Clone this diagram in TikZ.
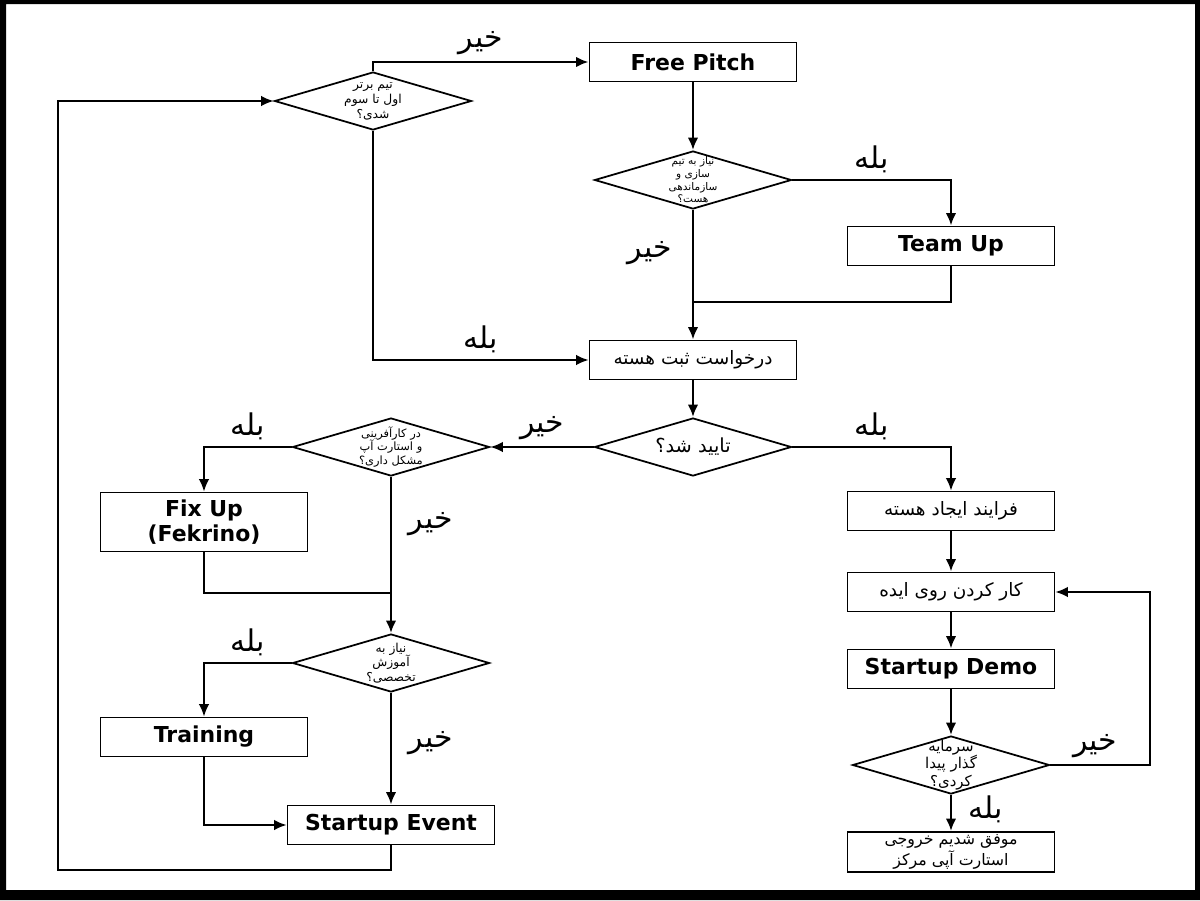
\documentclass[tikz,border=0pt]{standalone}
\usepackage{fontspec}
\setmainfont{DejaVu Sans}
\newfontfamily\arabicfont[Script=Arabic]{DejaVu Sans}
\TeXXeTstate=1
\newcommand{\fa}[1]{{\arabicfont\beginR #1\endR}}
\usetikzlibrary{positioning,shapes.geometric,arrows.meta}

\begin{document}
\begin{tikzpicture}[x=0.02cm,y=-0.02cm,
		box/.style={draw,line width=1pt,minimum width=4.14cm,minimum height=0.78cm,inner sep=1pt},
		title/.style={box,align=center,font=\bfseries\fontsize{12.5}{14.5}\selectfont},
		fbox/.style={box,align=center,font=\fontsize{10.5}{12}\selectfont},
		dia/.style={draw,diamond,line width=1pt,minimum width=3.94cm,minimum height=1.16cm,inner sep=0pt},
		ask/.style={align=center,inner sep=0pt,font=\fontsize{7}{8.6}\selectfont},
		arr/.style={-{Latex[length=2.5mm,width=2.1mm]},line width=1.6pt},
		wire/.style={line width=1.1pt},
		ans/.style={font=\fontsize{17}{19}\selectfont}]
		\useasboundingbox (0,0) rectangle (1200,900);
		\fill[even odd rule] (0,0) rectangle (1200,900) (6,4) rectangle (1195,890);
		
		\node[dia,label={[ask]center:\fa{تیم برتر}\\\fa{اول تا سوم}\\\fa{شدی؟}}] (rank) at (373,101) {};
		\node[title] (pitch) at (693,62) {Free Pitch};
		\node[dia,label={[ask,font=\fontsize{6}{7.2}\selectfont]center:\fa{نیاز به تیم}\\\fa{سازی و}\\\fa{سازماندهی}\\\fa{هست؟}}] (needteam) at (693,180) {};
		\node[title] (teamup) at (951,246) {Team Up};
		\node[fbox] (reg) at (693,360) {\fa{درخواست ثبت هسته}};
		\node[dia,label={[ask,font=\fontsize{11}{12}\selectfont]center:\fa{تایید شد؟}}] (ok) at (693,447) {};
		\node[dia,label={[ask,font=\fontsize{6.5}{7.8}\selectfont]center:\fa{در کارآفرینی}\\\fa{و استارت آپ}\\\fa{مشکل داری؟}}] (trouble) at (391,447) {};
		\node[title,minimum height=1.18cm] (fixup) at (204,522) {Fix Up\\(Fekrino)};
		\node[dia,label={[ask,font=\fontsize{7}{8.4}\selectfont]center:\fa{نیاز به}\\\fa{آموزش}\\\fa{تخصصی؟}}] (needtrain) at (391,663) {};
		\node[title] (train) at (204,737) {Training};
		\node[title] (event) at (391,825) {Startup Event};
		\node[fbox] (make) at (951,511) {\fa{فرایند ایجاد هسته}};
		\node[fbox] (work) at (951,592) {\fa{کار کردن روی ایده}};
		\node[title] (demo) at (951,669) {Startup Demo};
		\node[dia,label={[ask,font=\fontsize{8.5}{9.8}\selectfont]center:\fa{سرمایه}\\\fa{گذار پیدا}\\\fa{کردی؟}}] (invest) at (951,765) {};
		\node[fbox,minimum height=0.8cm,inner sep=0pt,font=\fontsize{9}{10.4}\selectfont] (done) at (951,852) {\fa{موفق شدیم خروجی}\\\fa{استارت آپی مرکز}};
		
		\coordinate (j1) at (693,302);
		\coordinate (j2) at (391,593);
		\coordinate (loop) at (58,870);
		\coordinate (back) at (1150,765);
		
		\draw[arr] (rank.north) |- node[ans,pos=0.75,above] {\fa{خیر}} (pitch.west);
		\draw[arr] (pitch) -- (needteam);
		\draw[arr] (needteam.east) -| node[ans,pos=0.25,above] {\fa{بله}} (teamup.north);
		\draw[arr] (needteam.south) -- node[ans,pos=0.33,left=8pt] {\fa{خیر}} (reg.north);
		\draw[wire] (teamup.south) |- (j1);
		\draw[arr,line width=1.1pt] (rank.south) |- node[ans,pos=0.75,above] {\fa{بله}} (reg.west);
		\draw[arr] (reg) -- (ok);
		\draw[arr,line width=1.1pt] (ok.east) -| node[ans,pos=0.25,above] {\fa{بله}} (make.north);
		\draw[arr,line width=1.1pt] (ok.west) -- node[ans,above] {\fa{خیر}} (trouble.east);
		\draw[arr,line width=1.1pt] (trouble.west) -| node[ans,pos=0.25,above] {\fa{بله}} (fixup.north);
		\draw[arr] (trouble.south) -- node[ans,pos=0.3,right=6pt] {\fa{خیر}} (needtrain.north);
		\draw[wire] (fixup.south) |- (j2);
		\draw[arr,line width=1.1pt] (needtrain.west) -| node[ans,pos=0.25,above] {\fa{بله}} (train.north);
		\draw[arr] (needtrain.south) -- node[ans,pos=0.45,right=6pt] {\fa{خیر}} (event.north);
		\draw[arr,line width=1.1pt] (train.south) |- (event.west);
		\draw[arr,line width=1.1pt] (event.south) |- (loop) |- (rank.west);
		\draw[arr] (make) -- (work);
		\draw[arr] (work) -- (demo);
		\draw[arr] (demo) -- (invest);
		\draw[arr] (invest.south) -- node[ans,pos=0.4,right=6pt] {\fa{بله}} (done.north);
		\draw[arr,line width=1.1pt] (invest.east) -- node[ans,pos=0.45,above] {\fa{خیر}} (back) |- (work.east);
\end{tikzpicture}
\end{document}
